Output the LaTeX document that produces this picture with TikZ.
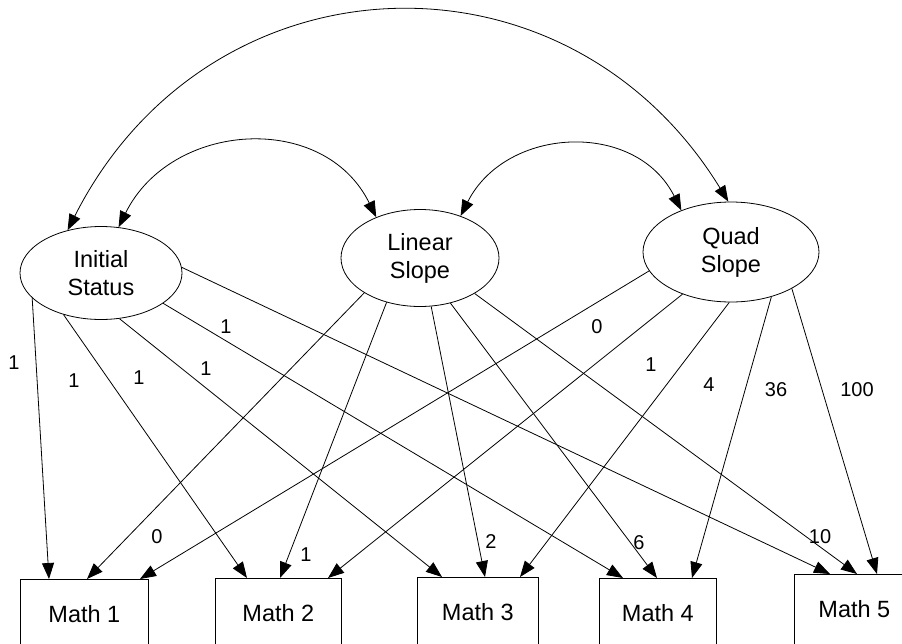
\documentclass[tikz,border=0pt]{standalone}
\usepackage{fontspec}
\setmainfont{Liberation Sans}
\usetikzlibrary{shapes.geometric,arrows.meta,calc}
\begin{document}
\begin{tikzpicture}[x=1pt,y=-1pt,
  latent/.style={draw,ellipse,line width=0.8pt,align=center,font=\fontsize{23.5}{28}\selectfont,inner sep=1pt},
  obs/.style={draw,rectangle,line width=0.8pt,anchor=north west,minimum height=70pt,font=\fontsize{23.5}{28}\selectfont,inner sep=0pt},
  loadarrow/.style={-{Triangle[length=16pt,width=12pt]},line width=0.8pt},
  cov/.style={{Triangle[length=16pt,width=12pt]}-{Triangle[length=16pt,width=12pt]},line width=0.8pt},
  lab/.style={font=\fontsize{20}{24}\selectfont,inner sep=0pt}]
\fill[white] (0,0) rectangle (902,643);
\clip (0,0) rectangle (902,643);

% latent factors
\node[latent,minimum width=162pt,minimum height=93pt] (is) at (101,273) {Initial\\Status};
\node[latent,minimum width=158pt,minimum height=97pt] (ls) at (420,258) {Linear\\Slope};
\node[latent,minimum width=176pt,minimum height=100pt] (qs) at (731,252) {Quad\\Slope};

% observed
\node[obs,minimum width=128pt] (m1) at (20,579) {Math 1};
\node[obs,minimum width=126pt] (m2) at (215,578) {Math 2};
\node[obs,minimum width=121pt] (m3) at (417,577) {Math 3};
\node[obs,minimum width=117pt] (m4) at (599,578) {Math 4};
\node[obs,minimum width=120pt] (m5) at (794,574) {Math 5};

% covariances
\draw[cov] (is.128) .. controls (209,-49) and (566,-63) .. (qs.93);
\draw[cov] (is.69) .. controls (171,121) and (324,111) .. (ls.137);
\draw[cov] (ls.46) .. controls (506,126) and (636,120) .. (qs.140);

% initial status loadings
\draw[loadarrow] (is.-160) -- ($(m1.north west)+(29,0)$);
\draw[loadarrow] (is.-132) -- ($(m2.north west)+(32,0)$);
\draw[loadarrow] (is.-68) -- ($(m3.north west)+(25,0)$);
\draw[loadarrow] (is.-26) -- ($(m4.north west)+(24,0)$);
\draw[loadarrow] (is.4) -- ($(m5.north west)+(36,0)$);

% linear slope loadings
\draw[loadarrow] (ls.-148) -- ($(m1.north west)+(67,0)$);
\draw[loadarrow] (ls.-127) -- ($(m2.north west)+(65,0)$);
\draw[loadarrow] (ls.-77) -- ($(m3.north west)+(68,0)$);
\draw[loadarrow] (ls.-56) -- ($(m4.north west)+(58,0)$);
\draw[loadarrow] (ls.-33) -- ($(m5.north west)+(63,0)$);

% quadratic slope loadings
\draw[loadarrow] (qs.-167) -- ($(m1.north west)+(120,0)$);
\draw[loadarrow] (qs.-139) -- ($(m2.north west)+(113,0)$);
\draw[loadarrow] (qs.-92) -- ($(m3.north west)+(103,0)$);
\draw[loadarrow] (qs.-48) -- ($(m4.north west)+(93,0)$);
\draw[loadarrow] (qs.-31) -- ($(m5.north west)+(83,0)$);

% labels
\node[lab] (a1) at (14,363) {1};
\node[lab] (a2) at (74,381) {1};
\node[lab] (a3) at (139,378) {1};
\node[lab] (a4) at (206,369) {1};
\node[lab] (a5) at (226,327) {1};
\node[lab] (c1) at (597,327) {0};
\node[lab] (c2) at (651,365) {1};
\node[lab] (c3) at (709,385) {4};
\node[lab] (c4) at (776,390) {36};
\node[lab] (c5) at (857,390) {100};
\node[lab] (b1) at (157,537) {0};
\node[lab] (b2) at (306,555) {1};
\node[lab] (b3) at (491,542) {2};
\node[lab] (b4) at (639,543) {6};
\node[lab] (b5) at (820,537) {10};
\end{tikzpicture}
\end{document}
